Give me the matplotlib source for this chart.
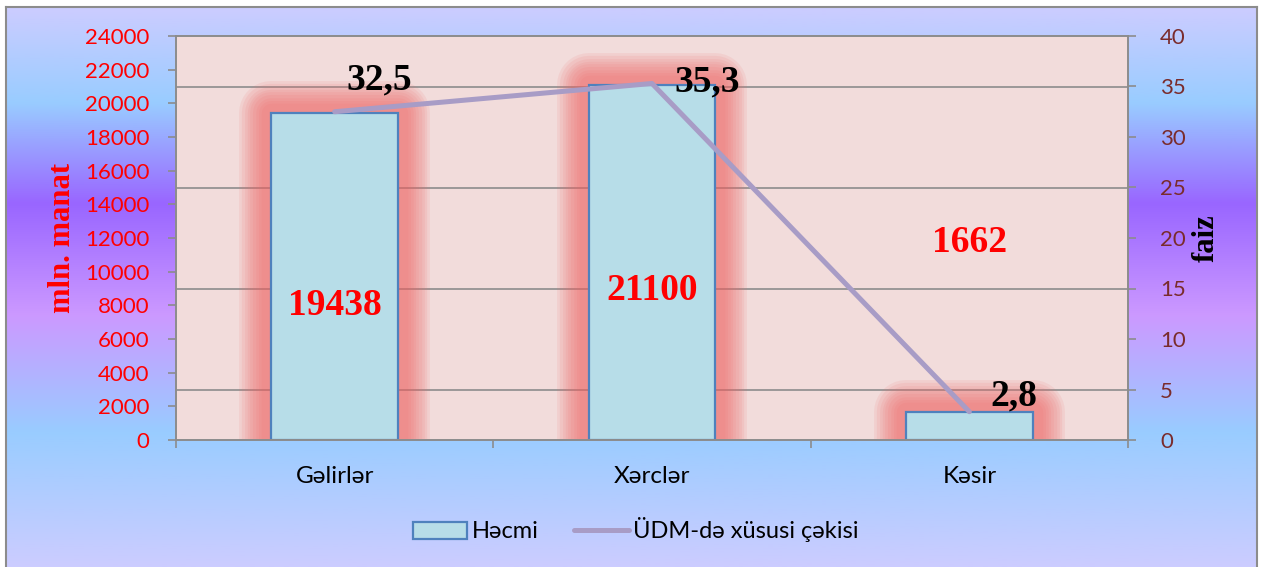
import matplotlib
matplotlib.use("Agg")
import matplotlib.pyplot as plt
import matplotlib.patheffects as pe
import numpy as np
from matplotlib.colors import LinearSegmentedColormap
from matplotlib.ticker import MultipleLocator, FixedLocator
from matplotlib.lines import Line2D
from matplotlib.patches import Patch

categories = ["Gəlirlər", "Xərclər", "Kəsir"]
volume = [19438, 21100, 1662]          # mln. manat
share = [32.5, 35.3, 2.8]              # faiz
volume_labels = ["19438", "21100", "1662"]
share_labels = ["32,5", "35,3", "2,8"]

SANS = ["Lato", "DejaVu Sans"]
SERIF = ["Liberation Serif", "DejaVu Serif"]

fig = plt.figure(figsize=(12.67, 5.67), dpi=100)

# gradient background inside a thin grey frame
bg = fig.add_axes([6 / 1267, 0, 1251 / 1267, 560 / 567], zorder=-5)
cmap = LinearSegmentedColormap.from_list("bg", [
    (0.0, "#ccccff"), (0.17, "#99ccff"), (0.35, "#9966ff"),
    (0.55, "#cc99ff"), (0.76, "#99ccff"), (1.0, "#ccccff")])
bg.imshow(np.linspace(0, 1, 256)[:, None], cmap=cmap, aspect="auto",
          extent=[0, 1, 0, 1], origin="upper")
bg.set_xticks([]); bg.set_yticks([])
for side, sp in bg.spines.items():
    sp.set_color("#8c8c8c"); sp.set_linewidth(1.5)
    if side == "bottom":
        sp.set_visible(False)

ax = fig.add_axes([176 / 1267, 1 - 440 / 567, 952 / 1267, 404 / 567])
ax.set_facecolor("#f2dcdb")
ax.set_axisbelow(True)
x = np.arange(len(categories))

# soft red glow behind the bars
glow = [pe.Stroke(linewidth=w, foreground="#ee6262", alpha=0.10, joinstyle="round")
        for w in (46, 42, 38, 34, 30, 26, 22, 18, 14)]
ax.bar(x, volume, width=0.4, color="#b7dde8", edgecolor="#4f81bd", linewidth=1.6,
       path_effects=glow + [pe.Normal()], zorder=2)

ax.set_xlim(-0.5, 2.5)
ax.set_ylim(0, 24000)
ax.yaxis.set_major_locator(MultipleLocator(2000))
ax.yaxis.set_minor_locator(MultipleLocator(3000))
ax.grid(which="minor", axis="y", color="#8c8c8c", linewidth=1.2)
ax.tick_params(axis="y", which="minor", length=0)
ax.tick_params(axis="y", which="major", direction="out", length=6, width=1.2,
               color="#8c8c8c", labelcolor="#ff0000", labelsize=16, pad=13)
ax.set_xticks(x)
ax.set_xticklabels(categories, family=SANS, fontsize=17.5, color="#000000")
ax.xaxis.set_minor_locator(FixedLocator([-0.5, 0.5, 1.5, 2.5]))
ax.tick_params(axis="x", which="major", length=0, pad=19)
ax.tick_params(axis="x", which="minor", direction="out", length=6, width=1.2, color="#8c8c8c")
for lab in ax.get_yticklabels():
    lab.set_family(SANS)
for sp in ax.spines.values():
    sp.set_color("#8c8c8c"); sp.set_linewidth(1.2)

for i, t in enumerate(volume_labels):
    ypos = [0.334, 0.371, 0.488][i]
    ax.text(i, ypos, t, transform=ax.get_xaxis_transform(), ha="center", va="center",
            fontsize=27, fontweight="bold", color="#ff0000", family=SERIF, zorder=5)

ax2 = ax.twinx()
ax2.set_ylim(0, 40)
ax2.yaxis.set_major_locator(MultipleLocator(5))
ax2.tick_params(axis="y", direction="out", length=6, width=1.2, color="#8c8c8c",
                labelcolor="#7a2c2c", labelsize=16, pad=17)
for lab in ax2.get_yticklabels():
    lab.set_family(SANS)
for sp in ax2.spines.values():
    sp.set_color("#8c8c8c"); sp.set_linewidth(1.2)
ax2.plot(x, share, color="#a89cc6", linewidth=3.6, solid_capstyle="round", zorder=3)

offsets = [(32, 23), (40, 1), (32, 11)]
for i, t in enumerate(share_labels):
    ax2.annotate(t, (x[i], share[i]), xytext=offsets[i], textcoords="offset points",
                 ha="center", va="center", fontsize=27, fontweight="bold",
                 color="#000000", family=SERIF)

fig.text(62 / 1267, 1 - 238 / 567, "mln. manat", rotation=90, ha="center", va="center",
         fontsize=22, fontweight="bold", color="#ff0000", family=SERIF)
fig.text(1206 / 1267, 1 - 238 / 567, "faiz", rotation=90, ha="center", va="center",
         fontsize=22, fontweight="bold", color="#000000", family=SERIF)

handles = [Patch(facecolor="#b7dde8", edgecolor="#4f81bd", linewidth=1.6),
           Line2D([], [], color="#a89cc6", linewidth=3.6, solid_capstyle="round")]
fig.legend(handles, ["Həcmi", "ÜDM-də xüsusi çəkisi"], loc="center",
           bbox_to_anchor=(636 / 1267, 1 - 530 / 567), ncol=2, frameon=False,
           prop={"family": SANS, "size": 17}, handlelength=2.3, handleheight=0.75,
           handletextpad=0.2, columnspacing=1.5)

fig.savefig("out.png", dpi=100)
